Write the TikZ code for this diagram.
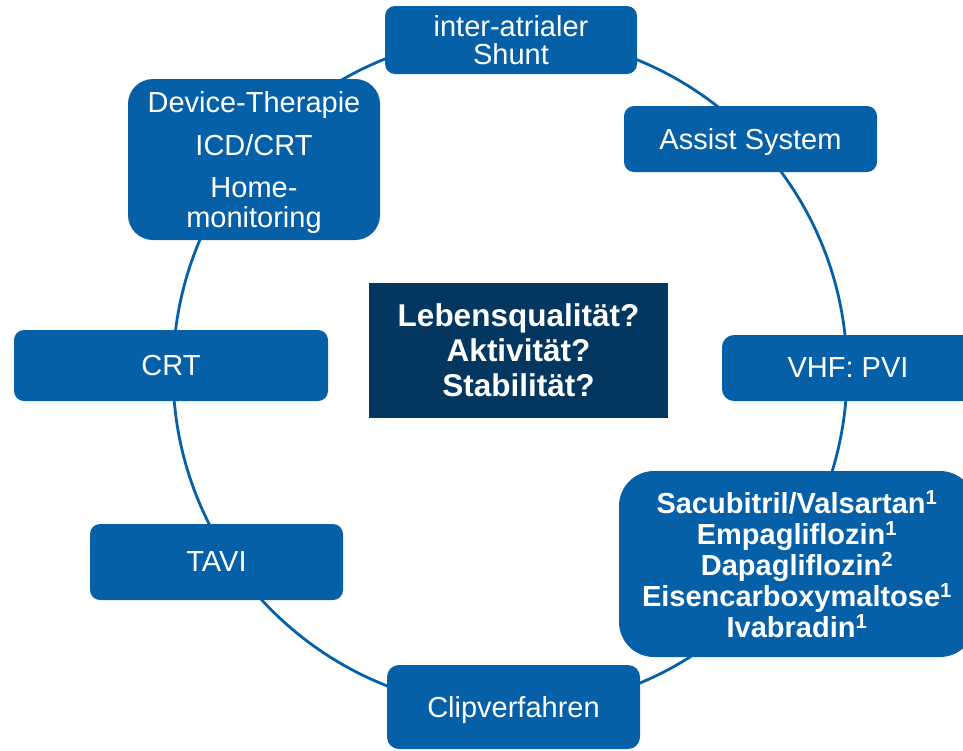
\documentclass[tikz,border=0pt]{standalone}
\usepackage{fontspec}
\setmainfont{Liberation Sans}
\definecolor{boxblue}{HTML}{0560A8}
\definecolor{navy}{HTML}{03375F}
\tikzset{
  box/.style={fill=boxblue, text=white, inner sep=0pt, align=center,
    rounded corners=10pt, font=\fontsize{29}{28}\selectfont, text depth=0pt},
  hub/.style={fill=navy, text=white, inner sep=0pt, align=center,
    font=\fontsize{31.5}{35}\selectfont\bfseries, text depth=0pt},
  ring/.style={draw=boxblue, line width=2.8pt}
}
\begin{document}
\begin{tikzpicture}[x=1pt,y=-1pt]
\useasboundingbox (0,0) rectangle (963,750);
% ring linking the therapy boxes
\coordinate (c) at (510,372);
\draw[ring] (c) circle[radius=337pt];
% therapy boxes around the ring
\node[box, minimum width=252pt, minimum height=68pt] (shunt) at (511,40)
  {inter-atrialer\\Shunt};
\node[box, minimum width=253pt, minimum height=66pt] (assist) at (750.5,139)
  {Assist System};
\node[box, minimum width=252pt, minimum height=66pt, rounded corners=12pt] (vhf) at (848,368)
  {VHF: PVI};
\node[box, minimum width=356pt, minimum height=186pt, rounded corners=35pt,
  font=\fontsize{29}{31}\selectfont\bfseries] (drugs) at (797,564)
  {Sacubitril/Valsartan\textsuperscript{1}\\
   Empagliflozin\textsuperscript{1}\\
   Dapagliflozin\textsuperscript{2}\\
   Eisencarboxymaltose\textsuperscript{1}\\
   Ivabradin\textsuperscript{1}};
\node[box, minimum width=253pt, minimum height=84pt, rounded corners=12pt] (clip) at (513.5,707)
  {Clipverfahren};
\node[box, minimum width=253pt, minimum height=76pt] (tavi) at (216.5,562)
  {TAVI};
\node[box, minimum width=314pt, minimum height=71pt] (crt) at (171,365.5)
  {CRT};
\node[box, minimum width=252pt, minimum height=161pt, rounded corners=25pt,
  font=\fontsize{29}{30}\selectfont] (device) at (254,159.5)
  {Device-Therapie\\[13pt]ICD/CRT\\[12pt]Home-\\monitoring};
% central question box
\node[hub, minimum width=299pt, minimum height=135pt] (hubq) at (518.5,350.5)
  {Lebensqualität?\\Aktivität?\\Stabilität?};
\end{tikzpicture}
\end{document}
